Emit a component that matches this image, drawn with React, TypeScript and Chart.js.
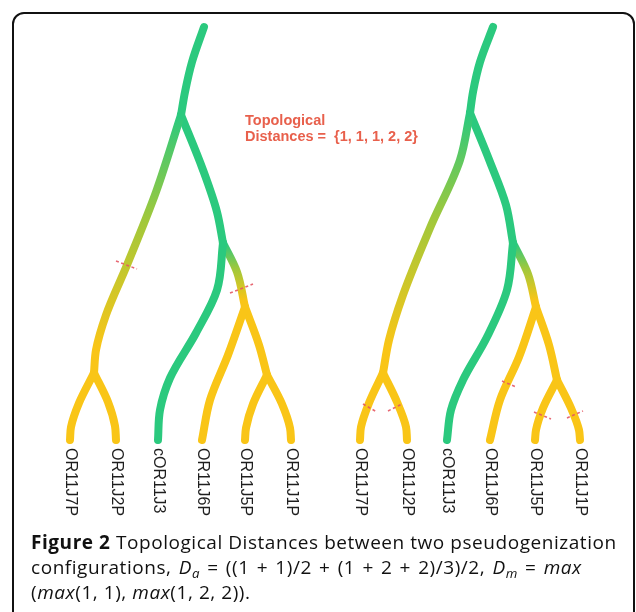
import React, { useEffect, useRef } from "react";
import { Chart, registerables } from "chart.js";

Chart.register(...registerables);

const GREEN = "#2bc97e";
const YELLOW = "#f9c517";
const LIME = "#9fc83c";

type Pt = [number, number];

// Tree 1 branches (top -> bottom sample points of each branch)
const t1Root: Pt[] = [[204, 27], [192, 62], [185, 92], [181, 115]];
const t1AB: Pt[] = [[181, 115], [156, 192], [127, 265], [106, 315], [96, 350], [94, 373]];
const t1B_J7P: Pt[] = [[94, 373], [79, 403], [71, 427], [70, 440]];
const t1B_J2P: Pt[] = [[94, 373], [108, 402], [115, 426], [116, 440]];
const t1AC: Pt[] = [[181, 115], [203, 170], [217, 212], [223, 243]];
const t1C_J3: Pt[] = [[223, 243], [217, 290], [196, 333], [170, 378], [160, 410], [158, 440]];
const t1CD: Pt[] = [[223, 243], [237, 272], [245, 307]];
const t1D_J6P: Pt[] = [[245, 307], [228, 355], [210, 400], [202, 440]];
const t1DE: Pt[] = [[245, 307], [259, 345], [267, 375]];
const t1E_J5P: Pt[] = [[267, 375], [253, 404], [246, 428], [245, 440]];
const t1E_J1P: Pt[] = [[267, 375], [282, 404], [290, 428], [291, 440]];

// Tree 2 branches
const t2Root: Pt[] = [[493, 27], [480, 62], [473, 92], [470, 113]];
const t2AB: Pt[] = [[470, 113], [460, 160], [430, 228], [403, 295], [389, 340], [383, 373]];
const t2B_J7P: Pt[] = [[383, 373], [369, 403], [361, 427], [360, 440]];
const t2B_J2P: Pt[] = [[383, 373], [397, 402], [406, 427], [407, 440]];
const t2AC: Pt[] = [[470, 113], [490, 162], [506, 205], [513, 243]];
const t2C_J3: Pt[] = [[513, 243], [507, 290], [487, 337], [463, 380], [451, 410], [447, 440]];
const t2CD: Pt[] = [[513, 243], [528, 274], [536, 307]];
const t2D_J6P: Pt[] = [[536, 307], [519, 357], [500, 400], [490, 440]];
const t2DE: Pt[] = [[536, 307], [549, 345], [557, 380]];
const t2E_J5P: Pt[] = [[557, 380], [543, 408], [536, 430], [535, 440]];
const t2E_J1P: Pt[] = [[557, 380], [571, 408], [579, 430], [580, 440]];

// colour of each branch: top and bottom
const branchList: { pts: Pt[]; top: string; bottom: string }[] = [
  { pts: t1Root, top: GREEN, bottom: GREEN },
  { pts: t1AB, top: GREEN, bottom: YELLOW },
  { pts: t1B_J7P, top: YELLOW, bottom: YELLOW },
  { pts: t1B_J2P, top: YELLOW, bottom: YELLOW },
  { pts: t1AC, top: GREEN, bottom: GREEN },
  { pts: t1C_J3, top: GREEN, bottom: GREEN },
  { pts: t1CD, top: GREEN, bottom: YELLOW },
  { pts: t1D_J6P, top: YELLOW, bottom: YELLOW },
  { pts: t1DE, top: YELLOW, bottom: YELLOW },
  { pts: t1E_J5P, top: YELLOW, bottom: YELLOW },
  { pts: t1E_J1P, top: YELLOW, bottom: YELLOW },
  { pts: t2Root, top: GREEN, bottom: GREEN },
  { pts: t2AB, top: GREEN, bottom: YELLOW },
  { pts: t2B_J7P, top: YELLOW, bottom: YELLOW },
  { pts: t2B_J2P, top: YELLOW, bottom: YELLOW },
  { pts: t2AC, top: GREEN, bottom: GREEN },
  { pts: t2C_J3, top: GREEN, bottom: GREEN },
  { pts: t2CD, top: GREEN, bottom: YELLOW },
  { pts: t2D_J6P, top: YELLOW, bottom: YELLOW },
  { pts: t2DE, top: YELLOW, bottom: YELLOW },
  { pts: t2E_J5P, top: YELLOW, bottom: YELLOW },
  { pts: t2E_J1P, top: YELLOW, bottom: YELLOW },
];

// red dashed cut marks
const cutMarks: Pt[][] = [
  [[116, 261], [137, 269]],
  [[230, 293], [253, 284]],
  [[363, 404], [377, 412]],
  [[388, 411], [402, 404]],
  [[502, 381], [516, 387]],
  [[534, 412], [551, 419]],
  [[567, 418], [583, 411]],
];

const leafLabels = ["OR11J7P", "OR11J2P", "cOR11J3", "OR11J6P", "OR11J5P", "OR11J1P"];
const leafBranches1 = [t1B_J7P, t1B_J2P, t1C_J3, t1D_J6P, t1E_J5P, t1E_J1P];
const leafBranches2 = [t2B_J7P, t2B_J2P, t2C_J3, t2D_J6P, t2E_J5P, t2E_J1P];
const labelTopY = 448;

const annotationLines = ["Topological", "Distances =  {1, 1, 1, 2, 2}"];
const annotationX = 245;
const annotationBaselines = [125, 141];

const W = 636;
const H = 530;

export default function App() {
  const ref = useRef<HTMLCanvasElement | null>(null);

  useEffect(() => {
    if (!ref.current) return;

    const textPlugin = {
      id: "treeText",
      afterDatasetsDraw(chart: any) {
        const { ctx, scales } = chart;
        const xs = scales.x;
        const ys = scales.y;
        ctx.save();
        ctx.fillStyle = "#e8604c";
        ctx.font = "bold 14.5px 'Liberation Sans', Arial, sans-serif";
        ctx.textAlign = "left";
        ctx.textBaseline = "alphabetic";
        annotationLines.forEach((t, i) => {
          ctx.fillText(t, xs.getPixelForValue(annotationX), ys.getPixelForValue(annotationBaselines[i]));
        });
        ctx.fillStyle = "#1e1e1e";
        ctx.font = "16px 'Liberation Sans', Arial, sans-serif";
        ctx.textBaseline = "middle";
        [...leafBranches1, ...leafBranches2].forEach((b, i) => {
          const leaf = b[b.length - 1];
          const px = xs.getPixelForValue(leaf[0]);
          const py = ys.getPixelForValue(labelTopY);
          ctx.save();
          ctx.translate(px, py);
          ctx.rotate(Math.PI / 2);
          ctx.fillText(leafLabels[i % 6], 0, 0);
          ctx.restore();
        });
        ctx.restore();
      },
    };

    const branchDatasets = branchList.map((b) => ({
      data: b.pts.map(([x, y]) => ({ x, y })),
      borderColor: (c: any) => {
        const chart = c.chart;
        if (!chart.chartArea) return b.top;
        if (b.top === b.bottom) return b.top;
        const ys = chart.scales.y;
        const y0 = ys.getPixelForValue(b.pts[0][1]);
        const y1 = ys.getPixelForValue(b.pts[b.pts.length - 1][1]);
        const g = chart.ctx.createLinearGradient(0, y0, 0, y1);
        g.addColorStop(0, b.top);
        g.addColorStop(0.4, LIME);
        g.addColorStop(0.9, b.bottom);
        g.addColorStop(1, b.bottom);
        return g;
      },
      borderWidth: 8,
      cubicInterpolationMode: "monotone",
      pointRadius: 0,
      borderCapStyle: "round",
      borderJoinStyle: "round",
      fill: false,
      order: 1,
    }));

    const markDatasets = cutMarks.map((m) => ({
      data: m.map(([x, y]) => ({ x, y })),
      borderColor: "rgba(228,88,100,0.9)",
      borderWidth: 1.6,
      borderDash: [3, 2.5],
      tension: 0,
      pointRadius: 0,
      fill: false,
      order: 0,
    }));

    const chart = new Chart(ref.current, {
      type: "line",
      data: { datasets: [...branchDatasets, ...markDatasets] as any },
      options: {
        indexAxis: "y",
        animation: false,
        responsive: false,
        events: [],
        layout: { padding: 0 },
        plugins: { legend: { display: false }, tooltip: { enabled: false } },
        scales: {
          x: { type: "linear", min: 0, max: W, display: false },
          y: { type: "linear", min: 0, max: H, reverse: true, display: false },
        },
      },
      plugins: [textPlugin],
    });
    return () => chart.destroy();
  }, []);

  const subStyle: React.CSSProperties = { fontSize: "0.7em", lineHeight: 0, verticalAlign: "-0.3em" };

  return (
    <div
      style={{
        position: "absolute",
        left: 0,
        top: 0,
        width: 636,
        height: 612,
        overflow: "hidden",
        background: "#fff",
      }}
    >
      <div
        style={{
          position: "absolute",
          left: 12,
          top: 12,
          width: 619,
          height: 700,
          border: "2px solid #111",
          borderRadius: 12,
        }}
      />
      <canvas ref={ref} width={W} height={H} style={{ position: "absolute", left: 0, top: 0 }} />
      <div
        style={{
          position: "absolute",
          left: 31,
          top: 530,
          width: 605,
          fontFamily: "'Open Sans', sans-serif",
          fontSize: 19,
          letterSpacing: "0.55px",
          lineHeight: "25px",
          color: "#111",
          whiteSpace: "nowrap",
        }}
      >
        <div>
          <b>Figure 2</b> Topological Distances between two pseudogenization
        </div>
        <div style={{ wordSpacing: "1.7px" }}>
          configurations, <i>D</i>
          <sub style={subStyle}>
            <i>a</i>
          </sub>{" "}
          = ((1 + 1)/2 + (1 + 2 + 2)/3)/2, <i>D</i>
          <sub style={subStyle}>
            <i>m</i>
          </sub>{" "}
          = <i>max</i>
        </div>
        <div>
          (<i>max</i>(1, 1), <i>max</i>(1, 2, 2)).
        </div>
      </div>
    </div>
  );
}
